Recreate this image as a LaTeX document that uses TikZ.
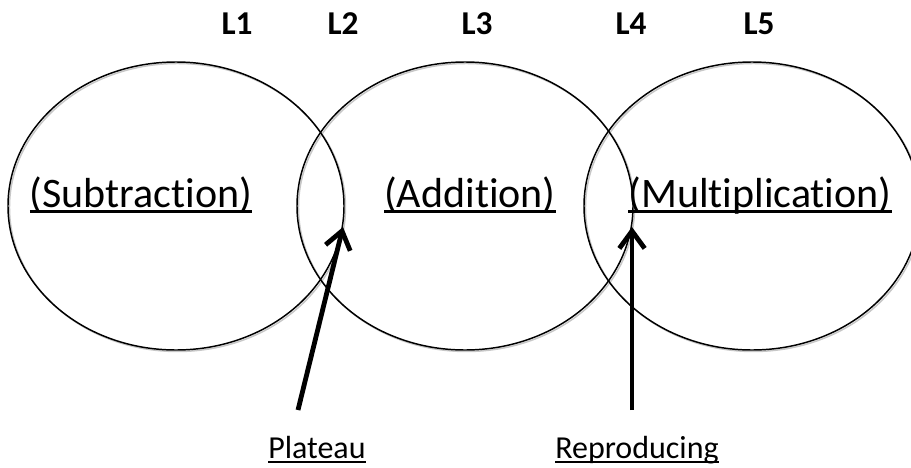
\documentclass[tikz,border=0pt]{standalone}
\usepackage{fontspec}
\setmainfont{Carlito}[Ligatures=NoCommon]
\usepackage{tikz}
\usetikzlibrary{shapes.geometric, arrows.meta, positioning}

\newlength{\ulw}
\newcommand{\ulabel}[1]{\settowidth{\ulw}{#1}\rlap{\rule[-0.15em]{\ulw}{0.07em}}#1}

\begin{document}
\begin{tikzpicture}
        [ x=0.75pt, y=-0.75pt
        , ring/.style={ellipse, draw=black, line width=1.1pt, minimum width=252pt, minimum height=216pt, inner sep=0pt}
        , ringsh/.style={ring, draw=black!22}
        , lev/.style={anchor=base, font=\fontsize{25}{30}\selectfont\bfseries, inner sep=0pt}
        , op/.style={anchor=base, font=\fontsize{31.5}{36}\selectfont, inner sep=0pt}
        , note/.style={anchor=base west, font=\fontsize{24}{28}\selectfont, inner sep=0pt}
        , arr/.style={-{Straight Barb[length=13pt, width=19pt]}, line width=3.6pt}
        ]
        \clip (0,0) rectangle (911,468);

        % shadows of the rings
        \node [ringsh] at (177.5,207.5) {};
        \node [ringsh] at (466.5,207.5) {};
        \node [ringsh] at (753.5,207.5) {};

        \node (sub) [ring] at (176,206) {};
        \node (add) [ring] at (465,206) {};
        \node (mul) [ring] at (752,206) {};

        \node (l1) [lev] at (237,34) {L1};
        \node (l2) [lev] at (343,34) {L2};
        \node (l3) [lev] at (477,34) {L3};
        \node (l4) [lev] at (631,34) {L4};
        \node (l5) [lev] at (759,34) {L5};

        \node (subT) [op] at (141,207) {\ulabel{(Subtraction)}};
        \node (addT) [op] at (470,207) {\ulabel{(Addition)}};
        \node (mulT) [op] at (760,207) {\ulabel{(Multiplication)}};

        \node (plat) [note] at (268,458) {\ulabel{Plateau}};
        \node (repr) [note] at (555,458) {\ulabel{Reproducing}};

        \node (platA) [coordinate] at (298,410) {};
        \node (platB) [coordinate] at (343,227) {};
        \draw[arr] (platA) -- (platB);

        \node (reprA) [coordinate] at (632,410) {};
        \node (reprB) [coordinate] at (632,227) {};
        \draw[arr] (reprA) -- (reprB);

    \end{tikzpicture}
\end{document}
